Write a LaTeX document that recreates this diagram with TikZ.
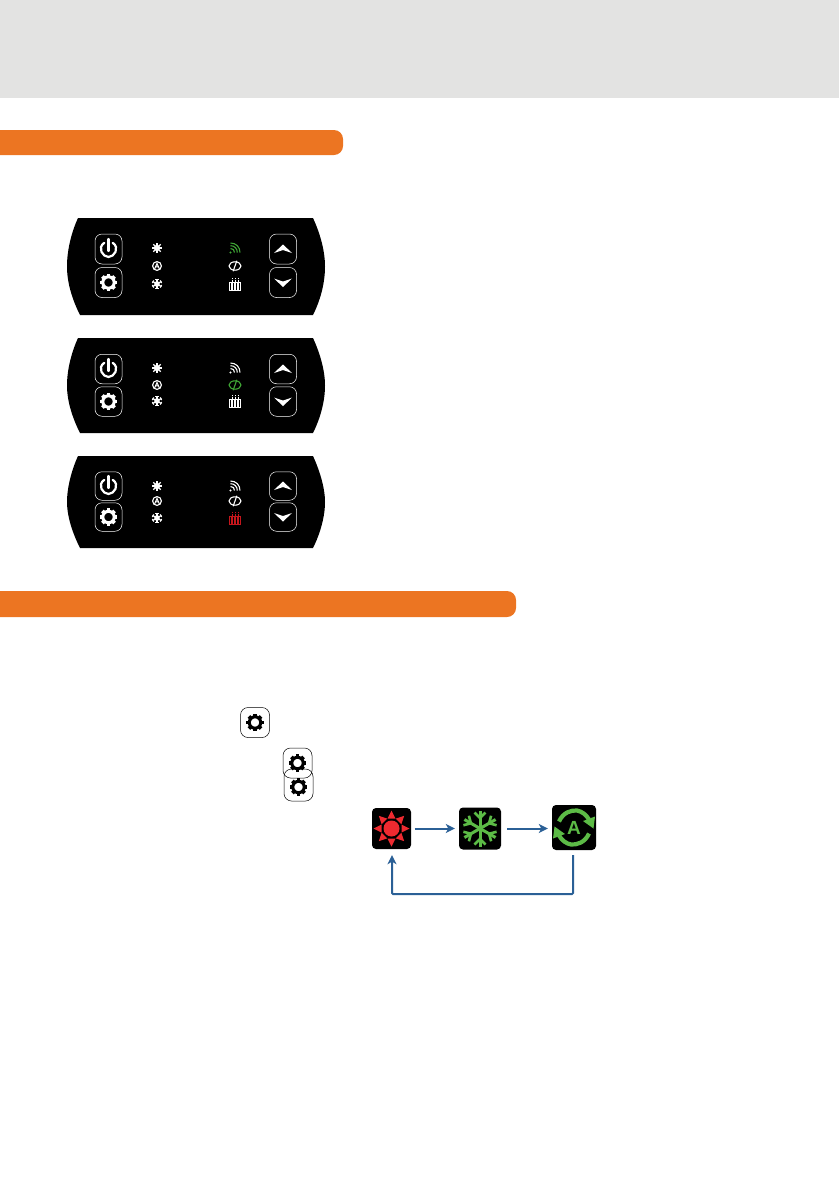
\documentclass[tikz,border=0pt]{standalone}
\usepackage{fontspec}
\setsansfont{Liberation Sans}
\usetikzlibrary{arrows.meta}

\definecolor{bandgray}{HTML}{E3E3E2}
\definecolor{barorange}{HTML}{EC7522}
\definecolor{ledgreen}{HTML}{3FA535}
\definecolor{ledred}{HTML}{C4161C}
\definecolor{tilegreen}{HTML}{5CBB46}
\definecolor{tilered}{HTML}{EE2A30}
\definecolor{flowblue}{HTML}{2B6096}

\tikzset{
  panelbtn/.style={draw=white,line width=0.5pt,rounded corners=7pt,minimum width=27pt,inner sep=0pt},
  keybtn/.style={draw=black,line width=0.5pt,fill=none,rounded corners=7.5pt,minimum width=29pt,minimum height=30pt,inner sep=0pt},
  tile/.style={fill=black,rounded corners=4pt,inner sep=0pt},
  flowline/.style={draw=flowblue,line width=2pt,-{Stealth[length=9pt,width=9pt,inset=2.5pt]}},
  pics/gearicon/.style={code={
    \draw[line width=3pt] (0,0) circle (5.7);
    \foreach \a in {0,45,...,315}
      \fill[rotate=\a] (-1.8,-8.6) rectangle (1.8,-6);
  }},
  pics/powericon/.style={code={
    \draw[line width=2.2pt,line cap=round] (-4.2,-6.2) .. controls (-11.5,-1.5) and (-6,8) .. (0,8) .. controls (6,8) and (11.5,-1.5) .. (4.2,-6.2);
    \draw[line width=2.2pt,line cap=round] (0,-10) -- (0,2);
  }},
  pics/upicon/.style={code={
    \fill (-9,4) -- (0,-4.5) -- (9,4) -- (0,1) -- cycle;
  }},
  pics/downicon/.style={code={
    \fill (-9,-4) -- (0,4.5) -- (9,-4) -- (0,-1) -- cycle;
  }},
  pics/sunicon/.style={code={
    \fill (0,0) circle (3.2);
    \foreach \a in {0,45,...,315}
      \draw[line width=1.1pt,rotate=\a] (0,0) -- (0,-5.2);
  }},
  pics/autoicon/.style={code={
    \draw[line width=1.1pt] (0,0) circle (4.4);
    \draw[line width=1pt] (-2.4,3) -- (0,-2.6) -- (2.4,3) (-1.2,0.8) -- (1.2,0.8);
  }},
  pics/snowicon/.style={code={
    \fill (0,0) circle (2.8);
    \foreach \a in {0,60,120} {
      \draw[line width=1.3pt,rotate=\a] (0,-5.2) -- (0,5.2);
      \draw[line width=0.8pt,rotate=\a] (-1.6,-4.6) -- (1.6,-4.6) (-1.6,4.6) -- (1.6,4.6);
    }
  }},
  pics/wifiicon/.style={code={
    \fill (-4.5,4.5) circle (1.1);
    \draw[line width=1.1pt] (-4.5,0.5) .. controls (-2,0.5) and (-0.5,2) .. (-0.5,4.5);
    \draw[line width=1.1pt] (-4.5,-2.3) .. controls (-0.5,-2.3) and (2.3,0.5) .. (2.3,4.5);
    \draw[line width=1.1pt] (-4.5,-5) .. controls (1,-5) and (5,-1) .. (5,4.5);
  }},
  pics/flowicon/.style={code={
    \draw[line width=1.1pt] (0,0) ellipse (6 and 4.2);
    \draw[line width=1.1pt] (-1.8,5.2) -- (1.8,-5.2);
  }},
  pics/heaticon/.style={code={
    \foreach \x in {-4.5,-1.5,1.5,4.5} {
      \draw[line width=0.8pt] (\x-1,-1.5) rectangle (\x+1,6);
    }
    \foreach \x in {-3,0,3}
      \draw[line width=0.7pt,densely dotted] (\x,-6) -- (\x,-2.5);
  }},
}

\begin{document}
\begin{tikzpicture}[x=1pt,y=-1pt]
  \useasboundingbox (0,0) rectangle (839,1191);
  \fill[bandgray] (0,0) rectangle (839,97.5);

  % orange title bars
  \fill[barorange,rounded corners=9pt] (-20,130) rectangle (343,155);
  \fill[barorange,rounded corners=9pt] (-20,591) rectangle (516,617);

  % the three control panels
  \foreach \i/\ptop/\pbot/\bone/\btwo/\bh/\lone/\ltwo/\lthree/\cwifi/\cflow/\cheat in {
    a/218/315/249/282.5/30/248/266/284/ledgreen/white/white,
    b/338/433/369/401.5/29.5/368/385/401/white/ledgreen/white,
    c/456/548/486/517/28.5/486/501/518/white/white/ledred} {
    \fill[black] (78,\ptop) .. controls (72,\ptop+13) and (67,\ptop+31) .. (67,{(\ptop+\pbot)/2})
      .. controls (67,\pbot-31) and (73,\pbot-14) .. (80,\pbot) -- (313,\pbot)
      .. controls (320,\pbot-14) and (325,\pbot-31) .. (325,{(\ptop+\pbot)/2})
      .. controls (325,\ptop+31) and (319,\ptop+13) .. (313,\ptop) -- cycle;
    \node[panelbtn,minimum height=\bh pt] (power\i) at (108.5,\bone) {};
    \node[panelbtn,minimum height=\bh pt] (set\i) at (108.5,\btwo) {};
    \node[panelbtn,minimum height=\bh pt] (up\i) at (283,\bone) {};
    \node[panelbtn,minimum height=\bh pt] (down\i) at (283,\btwo) {};
    \pic[white] at (power\i) {powericon};
    \pic[white] at (set\i) {gearicon};
    \pic[white] at (up\i) {upicon};
    \pic[white] at (down\i) {downicon};
    \pic[white] at (157,\lone) {sunicon};
    \pic[white] at (157,\ltwo) {autoicon};
    \pic[white] at (157,\lthree) {snowicon};
    \pic[\cwifi] at (235,\lone) {wifiicon};
    \pic[\cflow] at (235,\ltwo) {flowicon};
    \pic[\cheat] at (235,\lthree) {heaticon};
  }

  % keys shown in the text
  \node[keybtn] (keya) at (255,722.5) {};
  \node[keybtn] (keyb) at (297.5,763) {};
  \node[keybtn,minimum height=32pt] (keyc) at (298.5,785) {};
  \pic[black] at (keya) {gearicon};
  \pic[black] at (297.5,763) {gearicon};
  \pic[black] at (298.5,787) {gearicon};

  % mode cycle
  \node[tile,minimum width=39pt,minimum height=41pt] (heat) at (391.5,828.5) {};
  \node[tile,minimum width=42pt,minimum height=42pt] (cool) at (480,828.5) {};
  \node[tile,minimum width=44pt,minimum height=45pt,text=tilegreen,font=\sffamily\bfseries\fontsize{19}{19}\selectfont] (auto) at (574,827.5) {A};

  \fill[tilered] (heat) circle (8);
  \foreach \a in {0,45,...,315}
    \fill[tilered,shift={(heat.center)},rotate=\a] (-4,-10) -- (0,-18) -- (4,-10) -- cycle;

  \foreach \a in {0,60,...,300} {
    \begin{scope}[shift={(cool.center)},rotate=\a]
      \draw[tilegreen,line width=3pt] (0,0) -- (0,-18);
      \draw[tilegreen,line width=2.6pt] (-5.5,-16) -- (0,-10.5) -- (5.5,-16);
    \end{scope}
  }

  \begin{scope}[shift={(auto.center)}]
    \draw[tilegreen,line width=4.2pt] (-15,-6) .. controls (-11,-15) and (-3,-17.5) .. (3,-17) .. controls (8,-16) and (12,-13) .. (15,-8);
    \fill[tilegreen] (9,-6.5) -- (21,-11) -- (19.5,1) -- cycle;
    \draw[tilegreen,line width=4.2pt] (15,6) .. controls (11,15) and (3,17.5) .. (-3,17) .. controls (-8,16) and (-12,13) .. (-15,8);
    \fill[tilegreen] (-9,6.5) -- (-21,11) -- (-19.5,-1) -- cycle;
  \end{scope}

  \draw[flowline,shorten <=3.5pt,shorten >=4pt] (heat) -- (cool);
  \draw[flowline,shorten <=6pt,shorten >=4pt] (cool.east) -- (cool.east -| auto.west);
  \coordinate (backr) at (573,894);
  \coordinate (backl) at (392,894);
  \draw[flowline,rounded corners=1pt,shorten <=5pt,shorten >=6pt] (auto.south -| backr) -- (backr) -- (backl) -- (heat.south -| backl);
\end{tikzpicture}
\end{document}
